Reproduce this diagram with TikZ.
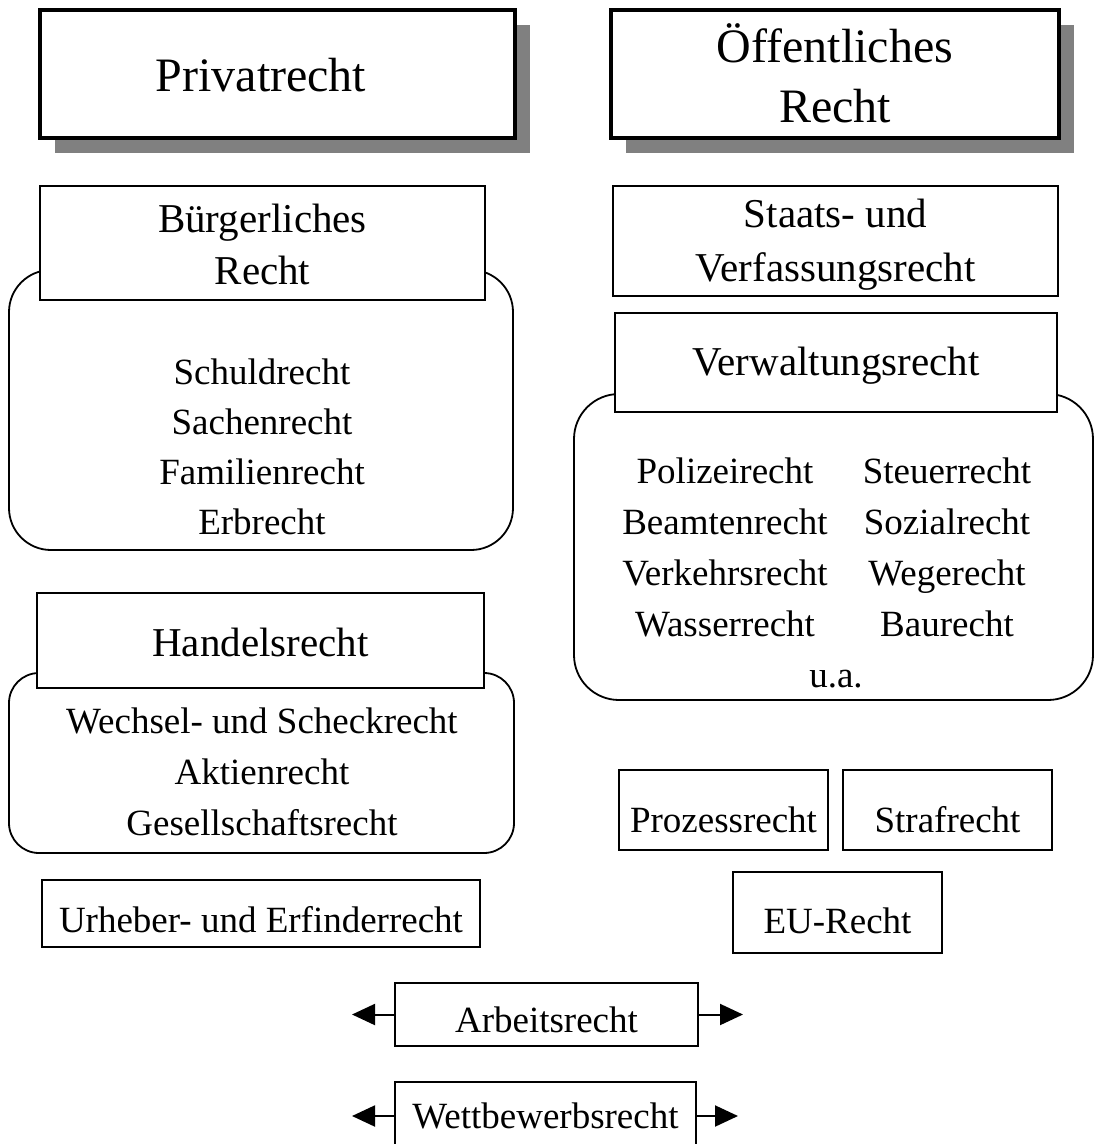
\documentclass[tikz,border=0pt]{standalone}
\usepackage{fontspec}
\setmainfont{Liberation Serif}
\usetikzlibrary{arrows.meta}
\begin{document}
\begin{tikzpicture}[x=1pt,y=-1pt,
  mainbox/.style={draw, line width=3.5pt, fill=white, inner sep=0pt},
  plainbox/.style={draw, line width=1.8pt, fill=white, inner sep=0pt},
  shadowbox/.style={fill=black!50},
  group/.style={draw, line width=1.8pt, fill=white},
  bigtxt/.style={font=\fontsize{48}{58}\selectfont, anchor=base, inner sep=0pt},
  headtxt/.style={font=\fontsize{41}{50}\selectfont, anchor=base, inner sep=0pt},
  itemtxt/.style={font=\fontsize{37}{45}\selectfont, anchor=base, inner sep=0pt},
  arrow/.style={line width=2pt, -{Triangle[length=23pt, width=21pt]}}]

\useasboundingbox (0,0) rectangle (1095,1144);
\clip (0,0) rectangle (1095,1144);
\fill[white] (0,0) rectangle (1095,1144);

% ---- the two main areas of law, with drop shadows ----
\fill[shadowbox] (55,25) rectangle (530,153);
\fill[shadowbox] (626,25) rectangle (1074,153);
\node[mainbox, minimum width=475pt, minimum height=128pt] (priv) at (277.5,74) {};
\node[bigtxt] (privT) at (261,91) {Privatrecht};
\node[mainbox, minimum width=448pt, minimum height=128pt] (oeff) at (835,74) {};
\node[bigtxt] (oeffT1) at (835,62) {Öffentliches};
\node[bigtxt] (oeffT2) at (835,122) {Recht};

% ---- private law ----
\draw[group, rounded corners=42pt] (9,270) rectangle (513,550);
\node[plainbox, minimum width=445pt, minimum height=114pt] (buerg) at (262.5,243) {};
\node[headtxt] (buergT1) at (262.5,232) {Bürgerliches};
\node[headtxt] (buergT2) at (262.5,284) {Recht};
\node[itemtxt] (schuld) at (262,384) {Schuldrecht};
\node[itemtxt] (sachen) at (262,434) {Sachenrecht};
\node[itemtxt] (familie) at (262,484) {Familienrecht};
\node[itemtxt] (erb) at (262,534) {Erbrecht};

\draw[group, rounded corners=30pt] (9,673) rectangle (514,853);
\node[plainbox, minimum width=447pt, minimum height=95pt] (handel) at (260.5,640.5) {};
\node[headtxt] (handelT) at (260.5,656) {Handelsrecht};
\node[itemtxt] (wechsel) at (262,733) {Wechsel- und Scheckrecht};
\node[itemtxt] (aktien) at (262,784) {Aktienrecht};
\node[itemtxt] (gesell) at (262,835) {Gesellschaftsrecht};

\node[plainbox, minimum width=438pt, minimum height=67pt] (urheb) at (261,913.5) {};
\node[itemtxt] (urhebT) at (261,932) {Urheber- und Erfinderrecht};

% ---- public law ----
\node[plainbox, minimum width=445pt, minimum height=110pt] (staats) at (835.5,241) {};
\node[headtxt] (staatsT1) at (835.5,227) {Staats- und};
\node[headtxt] (staatsT2) at (835.5,281) {Verfassungsrecht};

\draw[group, rounded corners=45pt] (574,394) rectangle (1093,700);
\node[plainbox, minimum width=442pt, minimum height=99pt] (verw) at (836,362.5) {};
\node[headtxt] (verwT) at (836,375) {Verwaltungsrecht};
\node[itemtxt] (polizei) at (725,483) {Polizeirecht};
\node[itemtxt] (steuer) at (947,483) {Steuerrecht};
\node[itemtxt] (beamten) at (725,534) {Beamtenrecht};
\node[itemtxt] (sozial) at (947,534) {Sozialrecht};
\node[itemtxt] (verkehr) at (725,585) {Verkehrsrecht};
\node[itemtxt] (wege) at (947,585) {Wegerecht};
\node[itemtxt] (wasser) at (725,636) {Wasserrecht};
\node[itemtxt] (bau) at (947,636) {Baurecht};
\node[itemtxt] (ua) at (836,687) {u.a.};

\node[plainbox, minimum width=209pt, minimum height=80pt] (proz) at (723.5,810) {};
\node[itemtxt] (prozT) at (723.5,832) {Prozessrecht};
\node[plainbox, minimum width=209pt, minimum height=80pt] (straf) at (947.5,810) {};
\node[itemtxt] (strafT) at (947.5,832) {Strafrecht};
\node[plainbox, minimum width=209pt, minimum height=81pt] (eu) at (837.5,912.5) {};
\node[itemtxt] (euT) at (837.5,933) {EU-Recht};

% ---- fields reaching into both areas ----
\node[plainbox, minimum width=303pt, minimum height=63pt] (arb) at (546.5,1014.5) {};
\node[itemtxt] (arbT) at (546.5,1032) {Arbeitsrecht};
\coordinate (arbL) at (352,1014.5);
\coordinate (arbR) at (743,1014.5);
\draw[arrow] (arb.west) -- (arbL);
\draw[arrow] (arb.east) -- (arbR);

\node[plainbox, minimum width=301pt, minimum height=68pt] (wett) at (545.5,1116) {};
\node[itemtxt] (wettT) at (545.5,1128) {Wettbewerbsrecht};
\coordinate (wettL) at (352,1116);
\coordinate (wettR) at (738,1116);
\draw[arrow] (wett.west) -- (wettL);
\draw[arrow] (wett.east) -- (wettR);
\end{tikzpicture}
\end{document}
